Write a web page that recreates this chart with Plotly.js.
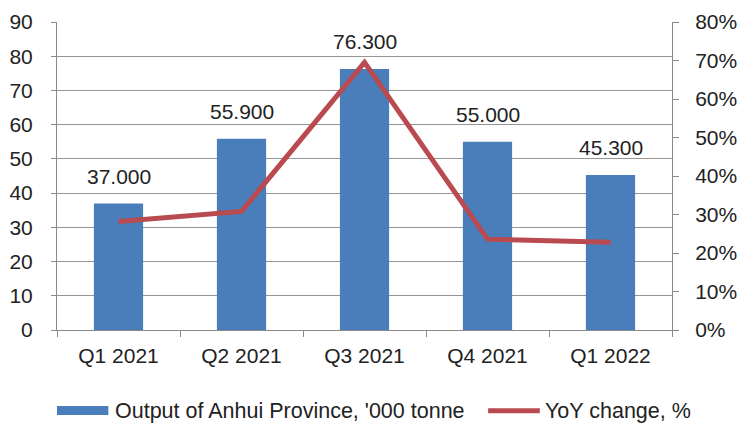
<!DOCTYPE html>
<html>
<head>
<meta charset="utf-8">
<script src="https://cdn.plot.ly/plotly-3.0.1.min.js"></script>
<style>
  html, body { margin: 0; padding: 0; background: #ffffff; }
  #chart { width: 737px; height: 423px; }
</style>
</head>
<body>
<div id="chart"></div>
<script>
// ---- data ----
const categories = ["Q1 2021", "Q2 2021", "Q3 2021", "Q4 2021", "Q1 2022"];
const outputValues = [37.0, 55.9, 76.3, 55.0, 45.3];          // '000 tonne
const yoyChange = [0.282, 0.308, 0.695, 0.236, 0.228];          // fraction
const barName = "Output of Anhui Province, '000 tonne";
const lineName = "YoY change, %";

// ---- styling ----
const FONT = '"Liberation Sans", Arial, sans-serif';
const TXT = '#222222';
const BAR = '#4a7ebb';
const LINE = '#b94a4f';
const AX = '#8a8a8a';

const bars = {
  type: 'bar',
  x: categories,
  y: outputValues,
  name: barName,
  marker: { color: BAR },
  hoverinfo: 'skip',
  showlegend: false
};
const line = {
  type: 'scatter',
  mode: 'lines',
  x: categories,
  y: yoyChange,
  yaxis: 'y2',
  name: lineName,
  line: { color: LINE, width: 5 },
  hoverinfo: 'skip',
  showlegend: false
};

const dataLabels = categories.map((c, i) => ({
  x: c, y: outputValues[i], xref: 'x', yref: 'y',
  text: outputValues[i].toFixed(3),
  showarrow: false, yanchor: 'middle', yshift: 27,
  font: { family: FONT, size: 21, color: TXT }
}));

const legendAnn = [
  { x: 0.091, y: -0.262, xref: 'paper', yref: 'paper', xanchor: 'left', yanchor: 'middle',
    text: barName, showarrow: false, font: { family: FONT, size: 21.5, color: TXT } },
  { x: 0.790, y: -0.262, xref: 'paper', yref: 'paper', xanchor: 'left', yanchor: 'middle',
    text: lineName, showarrow: false, font: { family: FONT, size: 21.5, color: TXT } }
];
const legendShapes = [
  { type: 'rect', xref: 'paper', yref: 'paper', x0: 0.0, x1: 0.0835, y0: -0.276, y1: -0.247,
    fillcolor: BAR, line: { width: 0 } },
  { type: 'line', xref: 'paper', yref: 'paper', x0: 0.701, x1: 0.785, y0: -0.262, y1: -0.262,
    line: { color: LINE, width: 5 } }
];

const layout = {
  width: 737, height: 423,
  margin: { l: 57, r: 65, t: 22, b: 93 },
  paper_bgcolor: '#ffffff', plot_bgcolor: '#ffffff',
  font: { family: FONT, size: 21, color: TXT },
  showlegend: false,
  bargap: 0.6,
  xaxis: {
    type: 'category',
    showline: true, linecolor: AX, linewidth: 1,
    ticks: 'outside', tickson: 'boundaries', ticklen: 6, tickcolor: AX,
    showgrid: false, zeroline: false,
    tickfont: { family: FONT, size: 21, color: TXT },
    ticklabelstandoff: 7,
    fixedrange: true
  },
  yaxis: {
    range: [0, 90], dtick: 10, tick0: 0,
    showline: true, linecolor: AX, linewidth: 1,
    ticks: 'outside', ticklen: 5, tickcolor: AX,
    showgrid: true, gridcolor: '#959595', gridwidth: 1,
    zeroline: false,
    tickfont: { family: FONT, size: 21, color: TXT },
    ticklabelstandoff: 14,
    fixedrange: true
  },
  yaxis2: {
    overlaying: 'y', side: 'right',
    range: [0, 0.8], dtick: 0.1, tick0: 0, tickformat: '.0%',
    showline: true, linecolor: AX, linewidth: 1,
    ticks: 'outside', ticklen: 6, tickcolor: AX,
    showgrid: false, zeroline: false,
    tickfont: { family: FONT, size: 21, color: TXT },
    ticklabelstandoff: 12,
    fixedrange: true
  },
  annotations: dataLabels.concat(legendAnn),
  shapes: legendShapes
};

Plotly.newPlot('chart', [bars, line], layout, { staticPlot: true, displayModeBar: false });
</script>
</body>
</html>
